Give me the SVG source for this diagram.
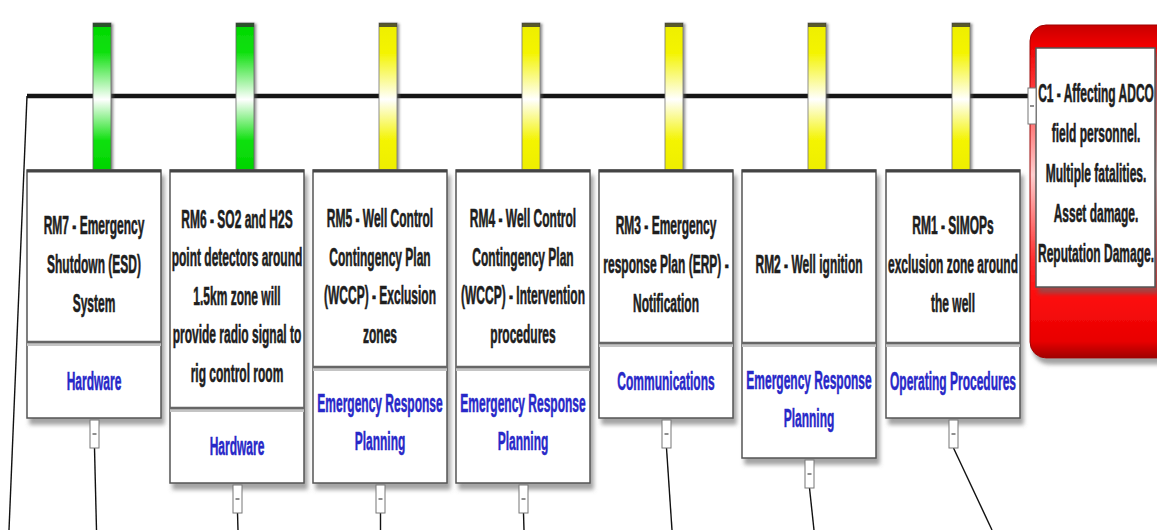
<svg xmlns="http://www.w3.org/2000/svg" width="1157" height="530" viewBox="0 0 1157 530">
<defs>
<style>
.t{font-family:"Liberation Sans",Arial,sans-serif;font-weight:bold;font-size:12px;text-anchor:middle;fill:#1e1e1e;stroke:#1e1e1e;stroke-width:0.3}
.c{font-family:"Liberation Sans",Arial,sans-serif;font-weight:bold;font-size:12px;text-anchor:middle;fill:#2828c8;stroke:#2828c8;stroke-width:0.25}
.box{fill:#fff;stroke:#555;stroke-width:1.5;filter:url(#sh)}
.top{stroke:#444;stroke-width:3}
.div{stroke:#666;stroke-width:2.5}
.divs{stroke:#c4c4c4;stroke-width:3}
.bg{fill:url(#gG);stroke:#666;stroke-width:0.8;filter:url(#bs)}
.by{fill:url(#gY);stroke:#777;stroke-width:0.8;filter:url(#bs)}
.cap{fill:#333;opacity:0.8}
.stub{fill:#fff;stroke:#777;stroke-width:1}
.dash{stroke:#444;stroke-width:1.2}
.ln{stroke:#111;stroke-width:1.4;fill:none}
.main{stroke:#151515;stroke-width:4.5;fill:none}
</style>
<filter id="sh" x="-10%" y="-10%" width="130%" height="130%"><feDropShadow dx="3" dy="6" stdDeviation="2" flood-color="#666" flood-opacity="0.6"/></filter>
<filter id="bs" x="-30%" y="-10%" width="170%" height="120%"><feDropShadow dx="2" dy="1" stdDeviation="1" flood-color="#555" flood-opacity="0.6"/></filter>
<linearGradient id="gG" x1="0" y1="0" x2="0" y2="1">
<stop offset="0" stop-color="#00d800"/><stop offset="0.2" stop-color="#10e010"/><stop offset="0.52" stop-color="#ffffff"/><stop offset="0.8" stop-color="#10e010"/><stop offset="1" stop-color="#00d400"/>
</linearGradient>
<linearGradient id="gY" x1="0" y1="0" x2="0" y2="1">
<stop offset="0" stop-color="#eeee00"/><stop offset="0.2" stop-color="#f4f400"/><stop offset="0.52" stop-color="#ffffff"/><stop offset="0.8" stop-color="#f4f400"/><stop offset="1" stop-color="#eeee00"/>
</linearGradient>
<linearGradient id="gR" x1="0" y1="0" x2="0" y2="1">
<stop offset="0" stop-color="#c80000"/><stop offset="0.06" stop-color="#f00000"/><stop offset="0.2" stop-color="#ff4040"/><stop offset="0.45" stop-color="#ffd0d0"/><stop offset="0.7" stop-color="#ff3030"/><stop offset="0.8" stop-color="#ff1010"/><stop offset="0.95" stop-color="#e80000"/><stop offset="1" stop-color="#a00000"/>
</linearGradient>
</defs>
<rect width="1157" height="530" fill="#fff"/>

<g id="connectors">
<line class="main" x1="27" y1="96" x2="1030" y2="96"/>
<line class="ln" x1="27" y1="96" x2="9" y2="530"/>
<line class="ln" x1="94.5" y1="448" x2="96.5" y2="530"/>
<line class="ln" x1="237.5" y1="513" x2="238" y2="530"/>
<line class="ln" x1="380.5" y1="513" x2="380.5" y2="530"/>
<line class="ln" x1="523.5" y1="513" x2="524" y2="530"/>
<line class="ln" x1="666.5" y1="448" x2="672" y2="530"/>
<line class="ln" x1="809.5" y1="488" x2="814" y2="530"/>
<line class="ln" x1="953.5" y1="448" x2="992" y2="530"/>
</g>

<g id="rm7">
<rect class="bg" x="93" y="23" width="18" height="147"/><rect class="cap" x="93" y="23" width="18" height="4"/>
<rect class="box" x="27" y="170" width="134" height="248"/>
<line class="top" x1="27" y1="171" x2="161" y2="171"/>
<line class="divs" x1="27" y1="344.5" x2="161" y2="344.5"/><line class="div" x1="27" y1="342" x2="161" y2="342"/>
<rect class="stub" x="90" y="420" width="9" height="28"/><line class="dash" x1="92.5" y1="434" x2="96.5" y2="434"/>
<text class="t" transform="translate(94,0) scale(1,2.2)"><tspan x="0" y="106.4">RM7 - Emergency</tspan><tspan x="0" y="124.1">Shutdown (ESD)</tspan><tspan x="0" y="141.8">System</tspan></text>
<text class="c" transform="translate(94,0) scale(1,2.2)"><tspan x="0" y="177.3">Hardware</tspan></text>
</g>

<g id="rm6">
<rect class="bg" x="236" y="23" width="18" height="147"/><rect class="cap" x="236" y="23" width="18" height="4"/>
<rect class="box" x="170" y="170" width="134" height="313"/>
<line class="top" x1="170" y1="171" x2="304" y2="171"/>
<line class="divs" x1="170" y1="410.5" x2="304" y2="410.5"/><line class="div" x1="170" y1="408" x2="304" y2="408"/>
<rect class="stub" x="233" y="485" width="9" height="28"/><line class="dash" x1="235.5" y1="499" x2="239.5" y2="499"/>
<text class="t" transform="translate(237,0) scale(1,2.2)"><tspan x="0" y="103.6">RM6 - SO2 and H2S</tspan><tspan x="0" y="121.1">point detectors around</tspan><tspan x="0" y="138.6">1.5km zone will</tspan><tspan x="0" y="156.1">provide radio signal to</tspan><tspan x="0" y="173.6">rig control room</tspan></text>
<text class="c" transform="translate(237,0) scale(1,2.2)"><tspan x="0" y="206.8">Hardware</tspan></text>
</g>

<g id="rm5">
<rect class="by" x="379" y="23" width="18" height="147"/><rect class="cap" x="379" y="23" width="18" height="4"/>
<rect class="box" x="313" y="170" width="134" height="313"/>
<line class="top" x1="313" y1="171" x2="447" y2="171"/>
<line class="divs" x1="313" y1="369.5" x2="447" y2="369.5"/><line class="div" x1="313" y1="367" x2="447" y2="367"/>
<rect class="stub" x="376" y="485" width="9" height="28"/><line class="dash" x1="378.5" y1="499" x2="382.5" y2="499"/>
<text class="t" transform="translate(380,0) scale(1,2.2)"><tspan x="0" y="103.2">RM5 - Well Control</tspan><tspan x="0" y="120.7">Contingency Plan</tspan><tspan x="0" y="138.2">(WCCP) - Exclusion</tspan><tspan x="0" y="155.7">zones</tspan></text>
<text class="c" transform="translate(380,0) scale(1,2.2)"><tspan x="0" y="187.3">Emergency Response</tspan><tspan x="0" y="204.5">Planning</tspan></text>
</g>

<g id="rm4">
<rect class="by" x="522" y="23" width="18" height="147"/><rect class="cap" x="522" y="23" width="18" height="4"/>
<rect class="box" x="456" y="170" width="134" height="313"/>
<line class="top" x1="456" y1="171" x2="590" y2="171"/>
<line class="divs" x1="456" y1="369.5" x2="590" y2="369.5"/><line class="div" x1="456" y1="367" x2="590" y2="367"/>
<rect class="stub" x="519" y="485" width="9" height="28"/><line class="dash" x1="521.5" y1="499" x2="525.5" y2="499"/>
<text class="t" transform="translate(523,0) scale(1,2.2)"><tspan x="0" y="103.2">RM4 - Well Control</tspan><tspan x="0" y="120.7">Contingency Plan</tspan><tspan x="0" y="138.2">(WCCP) - Intervention</tspan><tspan x="0" y="155.7">procedures</tspan></text>
<text class="c" transform="translate(523,0) scale(1,2.2)"><tspan x="0" y="187.3">Emergency Response</tspan><tspan x="0" y="204.5">Planning</tspan></text>
</g>

<g id="rm3">
<rect class="by" x="665" y="23" width="18" height="147"/><rect class="cap" x="665" y="23" width="18" height="4"/>
<rect class="box" x="599" y="170" width="134" height="248"/>
<line class="top" x1="599" y1="171" x2="733" y2="171"/>
<line class="divs" x1="599" y1="345.5" x2="733" y2="345.5"/><line class="div" x1="599" y1="343" x2="733" y2="343"/>
<rect class="stub" x="662" y="420" width="9" height="28"/><line class="dash" x1="664.5" y1="434" x2="668.5" y2="434"/>
<text class="t" transform="translate(666,0) scale(1,2.2)"><tspan x="0" y="106.4">RM3 - Emergency</tspan><tspan x="0" y="124.1">response Plan (ERP) -</tspan><tspan x="0" y="141.8">Notification</tspan></text>
<text class="c" transform="translate(666,0) scale(1,2.2)"><tspan x="0" y="177.3">Communications</tspan></text>
</g>

<g id="rm2">
<rect class="by" x="808" y="23" width="18" height="147"/><rect class="cap" x="808" y="23" width="18" height="4"/>
<rect class="box" x="742" y="170" width="134" height="288"/>
<line class="top" x1="742" y1="171" x2="876" y2="171"/>
<line class="divs" x1="742" y1="345.5" x2="876" y2="345.5"/><line class="div" x1="742" y1="343" x2="876" y2="343"/>
<rect class="stub" x="805" y="460" width="9" height="28"/><line class="dash" x1="807.5" y1="474" x2="811.5" y2="474"/>
<text class="t" transform="translate(809,0) scale(1,2.2)"><tspan x="0" y="124.1">RM2 - Well ignition</tspan></text>
<text class="c" transform="translate(809,0) scale(1,2.2)"><tspan x="0" y="176.8">Emergency Response</tspan><tspan x="0" y="194.1">Planning</tspan></text>
</g>

<g id="rm1">
<rect class="by" x="952" y="23" width="18" height="147"/><rect class="cap" x="952" y="23" width="18" height="4"/>
<rect class="box" x="886" y="170" width="134" height="248"/>
<line class="top" x1="886" y1="171" x2="1020" y2="171"/>
<line class="divs" x1="886" y1="345.5" x2="1020" y2="345.5"/><line class="div" x1="886" y1="343" x2="1020" y2="343"/>
<rect class="stub" x="949" y="420" width="9" height="28"/><line class="dash" x1="951.5" y1="434" x2="955.5" y2="434"/>
<text class="t" transform="translate(953,0) scale(1,2.2)"><tspan x="0" y="106.4">RM1 - SIMOPs</tspan><tspan x="0" y="124.1">exclusion zone around</tspan><tspan x="0" y="141.8">the well</tspan></text>
<text class="c" transform="translate(953,0) scale(1,2.2)"><tspan x="0" y="177.3">Operating Procedures</tspan></text>
</g>

<g id="c1">
<rect x="1030" y="25" width="150" height="333" rx="16" fill="url(#gR)" stroke="#a00000" stroke-width="1" filter="url(#sh)"/>
<rect x="1036" y="48" width="119" height="239" fill="#fff" stroke="#555" stroke-width="1.5" filter="url(#sh)"/>
<rect class="stub" x="1028" y="88" width="8" height="36"/><line class="dash" x1="1030" y1="106" x2="1034" y2="106"/>
<text class="t" transform="translate(1096,0) scale(1,2.2)"><tspan x="0" y="46.4">C1 - Affecting ADCO</tspan><tspan x="0" y="64.5">field personnel.</tspan><tspan x="0" y="82.7">Multiple fatalities.</tspan><tspan x="0" y="100.9">Asset damage.</tspan><tspan x="0" y="119.1">Reputation Damage.</tspan></text>
</g>
</svg>
